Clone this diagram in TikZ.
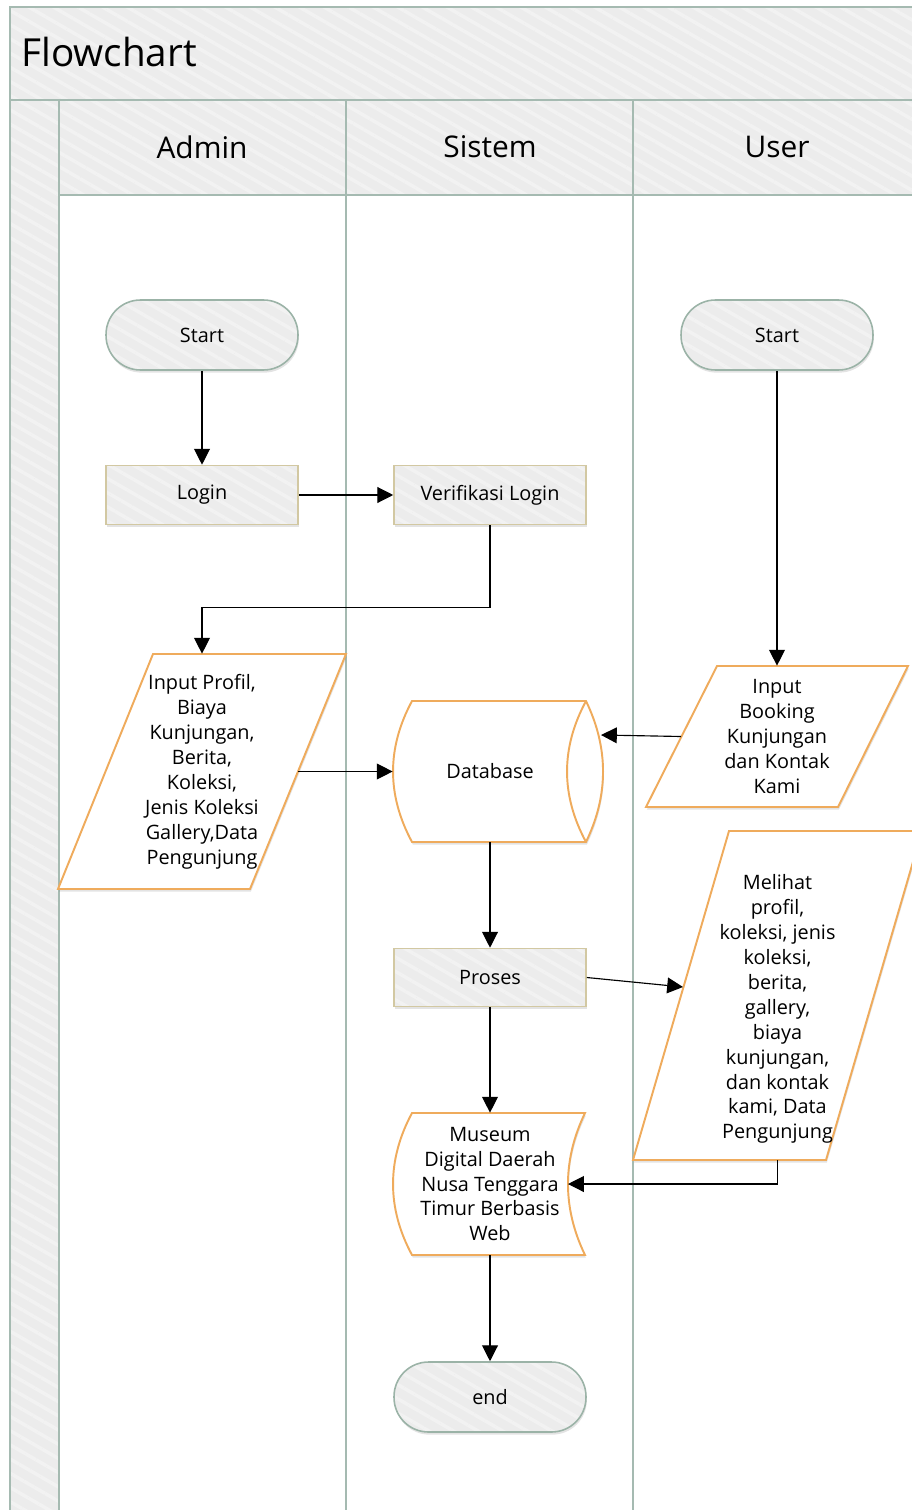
\documentclass[tikz,border=0pt]{standalone}
\usepackage{fontspec}
\setmainfont{Open Sans}
\usetikzlibrary{arrows.meta,shadows,patterns.meta}

\definecolor{headgrey}{HTML}{ECECEC}
\definecolor{stripe}{HTML}{F2F2F2}
\definecolor{laneline}{HTML}{A5BAB1}
\definecolor{termline}{HTML}{9BB3A7}
\definecolor{procline}{HTML}{D2C8A2}
\definecolor{dataline}{HTML}{EFAB5C}

\newcommand{\boxfont}{\fontsize{11.3}{14.2}\selectfont}
\newcommand{\lanefont}{\fontsize{17}{20}\selectfont}
\newcommand{\titlefont}{\fontsize{22}{26}\selectfont}

\tikzset{
  hatched/.style={preaction={fill=headgrey}, preaction={pattern={Lines[angle=-30,distance=7pt,line width=2pt]}, pattern color=stripe}},
  lane/.style={draw=laneline, line width=1.1pt},
  softshadow/.style={drop shadow={shadow xshift=0.5pt, shadow yshift=-1.5pt, opacity=0.22}},
  terminal/.style={rectangle, rounded corners=0.69cm, minimum width=3.84cm, minimum height=1.4cm, softshadow, hatched, draw=termline, line width=0.9pt, font=\boxfont},
  procbox/.style={rectangle, minimum width=3.84cm, minimum height=1.18cm, softshadow, hatched, draw=procline, line width=0.9pt, font=\boxfont},
  datalook/.style={draw=dataline, fill=white, line width=1.1pt, softshadow},
  datatext/.style={rectangle, align=center, inner sep=0pt, font=\boxfont},
  arr/.style={-{Triangle[length=9pt,width=9pt]}, line width=0.65pt},
}

\begin{document}
\begin{tikzpicture}[x=0.02cm, y=-0.02cm]
\useasboundingbox (0,0) rectangle (912,1510);
% pool and lanes
\path[hatched] (10,7) rectangle (912,100);
\path[hatched] (10,100) rectangle (59,1510);
\path[hatched] (59,100) rectangle (912,195);
\draw[lane] (10,1510) -- (10,7) -- (912,7);
\draw[lane] (10,100) -- (912,100);
\draw[lane] (59,195) -- (912,195);
\draw[lane] (59,100) -- (59,1510);
\draw[lane] (346,100) -- (346,1510);
\draw[lane] (633,100) -- (633,1510);

\node at (21,52) [anchor=west, inner sep=0pt, font=\titlefont] (title) {Flowchart};
\node at (202,147) [font=\lanefont] (admin) {Admin};
\node at (490,147) [font=\lanefont] (sistem) {Sistem};
\node at (777,147) [font=\lanefont] (user) {User};

% outlines of the data shapes
\draw[datalook] (153,654) -- (346,654) -- (250,889) -- (58,889) -- cycle;
\draw[datalook] (717,666) -- (908,666) -- (838,807) -- (646,807) -- cycle;
\draw[datalook] (729,831) -- (922,831) -- (826,1160) -- (633,1160) -- cycle;
\draw[datalook] (412,701) -- (586,701) .. controls (608.7,748) and (608.7,795) .. (586,842) -- (412,842) .. controls (386.7,795) and (386.7,748) .. (412,701) -- cycle;
\draw[dataline, line width=1.1pt] (586,701) .. controls (560.7,748) and (560.7,795) .. (586,842);
\draw[datalook] (412,1113) -- (585,1113) .. controls (562.3,1160) and (562.3,1208) .. (585,1255) -- (412,1255) .. controls (386.7,1208) and (386.7,1160) .. (412,1113) -- cycle;

% Admin
\node at (202,335) [terminal] (startadmin) {Start};
\node at (202,495) [procbox] (login) {Login};
\node at (202,771.5) [datatext, minimum width=3.84cm, minimum height=4.7cm] (profil) {Input Profil,\\Biaya\\Kunjungan,\\Berita,\\Koleksi,\\Jenis Koleksi\\Gallery,Data\\Pengunjung};
% Sistem
\node at (490,495) [procbox] (verif) {Verifikasi Login};
\node at (490,771.5) [datatext, minimum width=3.88cm, minimum height=2.82cm] (db) {Database};
\node at (490,977.5) [procbox, minimum height=1.16cm] (proses) {Proses};
\node at (490,1184) [datatext, minimum width=3.88cm, minimum height=2.84cm] (museum) {Museum\\Digital Daerah\\Nusa Tenggara\\Timur Berbasis\\Web};
\node at (490,1397) [terminal] (finish) {end};
% User
\node at (777,335) [terminal] (startuser) {Start};
\node at (777,736.5) [datatext, minimum width=3.82cm, minimum height=2.82cm] (booking) {Input\\Booking\\Kunjungan\\dan Kontak\\Kami};
\node at (777.5,995.5) [datatext, minimum width=3.86cm, minimum height=6.58cm] (lihat) {};
\node at (777.5,1009) [datatext] (lihattext) {Melihat\\profil,\\koleksi, jenis\\koleksi,\\berita,\\gallery,\\biaya\\kunjungan,\\dan kontak\\kami, Data\\Pengunjung};

\coordinate (dbin) at (601,735);
\coordinate (lihatin) at (683,987);
\coordinate (musin) at (568,1184);

\draw[arr] (startadmin) -- (login);
\draw[arr] (login) -- (verif);
\draw[arr] (verif.south) -- ++(0,82) -| (profil.north);
\draw[arr] (profil.east) -- (db.west);
\draw[arr] (startuser) -- (booking.north);
\draw[arr] (booking.west) -- (dbin);
\draw[arr] (db.south) -- (proses.north);
\draw[arr] (proses.east) -- (lihatin);
\draw[arr] (proses.south) -- (museum.north);
\draw[arr] (lihat.south) |- (musin);
\draw[arr] (museum.south) -- (finish.north);
\end{tikzpicture}
\end{document}
